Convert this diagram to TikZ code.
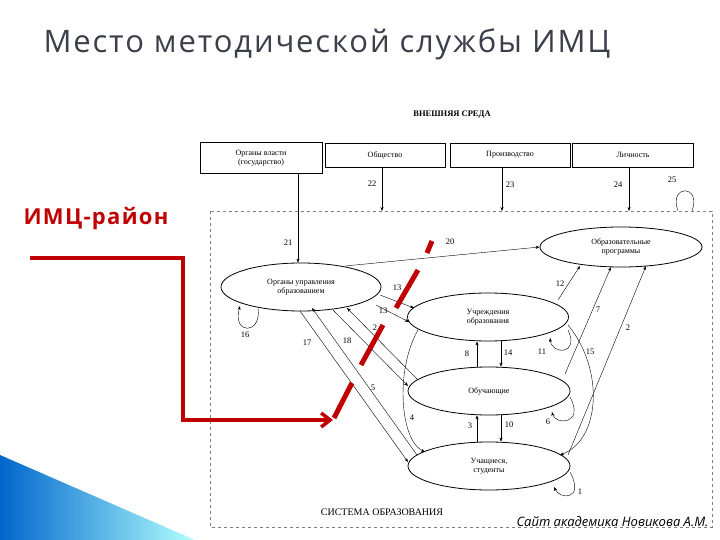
\documentclass[tikz,border=0pt]{standalone}
\usepackage{fontspec}
\setmainfont{Liberation Serif}
\newfontfamily\ttl{Open Sans}
\newfontfamily\ttlsp[LetterSpace=6]{Open Sans}
\usetikzlibrary{shapes.geometric,arrows.meta}
\definecolor{redc}{HTML}{C00000}
\definecolor{ttlc}{HTML}{3A3F4A}
\begin{document}
\begin{tikzpicture}[x=1pt,y=-1pt,
  box/.style={draw,thick,minimum height=24pt,align=center,font=\fontsize{8}{9}\selectfont,inner sep=1pt},
  ell/.style={draw,thick,ellipse,align=center,font=\fontsize{8}{9}\selectfont,inner sep=0pt},
  ar/.style={-{Stealth[length=4pt,width=3pt]},thin},
  lab/.style={font=\fontsize{8.5}{9}\selectfont,inner sep=0pt},
  rd/.style={redc,line width=5pt}]
\useasboundingbox (0,0) rectangle (720,540);
\fill[white] (0,0) rectangle (720,540);
% blue decoration
\shade[left color=blue!50!cyan!80!black,right color=cyan!30] (0,455) -- (195,540) -- (0,540) -- cycle;
% title
\node[anchor=west,font=\ttlsp\fontsize{31}{34}\selectfont,text=ttlc] (title) at (40,44) {Место методической службы ИМЦ};
% external env
\node[font=\bfseries\fontsize{8.5}{9}\selectfont] (env) at (452,115) {ВНЕШНЯЯ СРЕДА};
\node[box,minimum width=122pt,minimum height=31pt] (b1) at (261,158) {Органы власти\\(государство)};
\node[box,minimum width=120pt] (b2) at (385,155) {Общество};
\node[box,minimum width=120pt] (b3) at (510,155) {Производство};
\node[box,minimum width=121pt] (b4) at (633,155) {Личность};
% system frame
\draw[gray,dashed] (210,211) rectangle (712,527);
\node[font=\fontsize{10}{11}\selectfont] (sys) at (382,512) {СИСТЕМА ОБРАЗОВАНИЯ};
% ellipses
\node[ell,minimum width=160pt,minimum height=48pt] (org) at (301,287) {Органы управления\\образованием};
\node[ell,minimum width=162pt,minimum height=40pt] (prog) at (621,247) {Образовательные\\программы};
\node[ell,minimum width=161pt,minimum height=48pt] (inst) at (488,317) {Учреждения\\образования};
\node[ell,minimum width=162pt,minimum height=48pt] (teach) at (489,391) {Обучающие};
\node[ell,minimum width=162pt,minimum height=48pt] (stud) at (489,466) {Учащиеся,\\студенты};
% external arrows
\coordinate (t22) at (382,211); \coordinate (t23) at (502,211); \coordinate (t24) at (629,211);
\draw[ar] (b1.south -| 298,0) -- (org.north -| 298,0);
\draw[ar] (b2.south -| t22) -- (t22);
\draw[ar] (b3.south -| t23) -- (t23);
\draw[ar] (b4.south -| t24) -- (t24);
\node[lab] (l21) at (288,243) {21};
\node[lab] (l22) at (372,184) {22};
\node[lab] (l23) at (510,185) {23};
\node[lab] (l24) at (618,185) {24};
\node[lab] (l25) at (672,180) {25};
\draw[thin] (678,211) .. controls (668,184) and (702,184) .. (692,211);
% internal connectors
\draw[ar] (345,266) -- (prog.west);
\node[lab] (l20) at (450,242) {20};
\draw[ar] (558,300) -- (580,266);
\node[lab] (l12) at (560,284) {12};
\draw[ar] (565,374) -- (611,267);
\node[lab] (l7) at (598,310) {7};
\draw[ar] (568,455) -- (646,266);
\node[lab] (l2r) at (628,328) {2};
\draw[ar] (568,325) .. controls (605,370) and (600,440) .. (560,455);
\node[lab] (l15) at (590,352) {15};
\draw[ar] (418,330) .. controls (395,370) and (400,440) .. (425,452);
\node[lab] (l4) at (412,418) {4};
% loops
\draw[ar] (568,330) .. controls (580,355) and (552,355) .. (550,338);
\node[lab] (l11) at (542,352) {11};
\draw[ar] (570,397) .. controls (585,425) and (555,425) .. (552,412);
\node[lab] (l6) at (548,422) {6};
\draw[ar] (570,472) .. controls (585,500) and (560,500) .. (554,487);
\node[lab] (l1) at (580,492) {1};
\draw[ar] (258,308) .. controls (262,335) and (232,335) .. (240,306);
\node[lab] (l16) at (245,335) {16};
% vertical
\draw[ar] (teach.north -| 477,0) -- (inst.south -| 477,0);
\draw[ar] (inst.south -| 501,0) -- (teach.north -| 501,0);
\draw[ar] (stud.north -| 477,0) -- (teach.south -| 477,0);
\draw[ar] (teach.south -| 501,0) -- (stud.north -| 501,0);
\node[lab] (l8) at (467,354) {8};
\node[lab] (l14) at (508,353) {14};
\node[lab] (l3) at (470,426) {3};
\node[lab] (l10) at (509,425) {10};
% org to inst
\draw[ar] (380,295) -- (414,308);
\draw[ar] (376,305) -- (409,322);
\node[lab] (l13a) at (397,288) {13};
\node[lab] (l13b) at (383,311) {13};
% org to teach/stud
\draw[ar] (300,311) -- (408,462);
\draw[ar] (417,455) -- (312,308);
\draw[ar] (333,310) -- (408,386);
\draw[ar] (418,380) -- (347,308);
\node[lab] (l17) at (307,343) {17};
\node[lab] (l18) at (347,341) {18};
\node[lab] (l2) at (375,328) {2};
\node[lab] (l5) at (373,388) {5};
% red overlay
\node[anchor=west,text=redc,font=\ttlsp\bfseries\fontsize{22}{25}\selectfont] (imc) at (20,219) {ИМЦ-район};
\coordinate (r0) at (30,258); \coordinate (r1) at (183,258); \coordinate (r2) at (183,420);
\coordinate (r3) at (333,420);
\draw[redc,line width=3.5pt,-{Straight Barb[length=9pt,width=14pt]}] (r0) -- (r1) -- (r2) -- (r3);
\draw[rd] (432,241) -- (427,253);
\draw[rd] (418,270) -- (396,308);
\draw[rd] (383,325) -- (361,365);
\draw[rd] (352,383) -- (334,418);
\node[anchor=east,font=\ttl\itshape\fontsize{13}{14}\selectfont] (site) at (712,522) {Сайт академика Новикова А.М.};
\end{tikzpicture}
\end{document}
